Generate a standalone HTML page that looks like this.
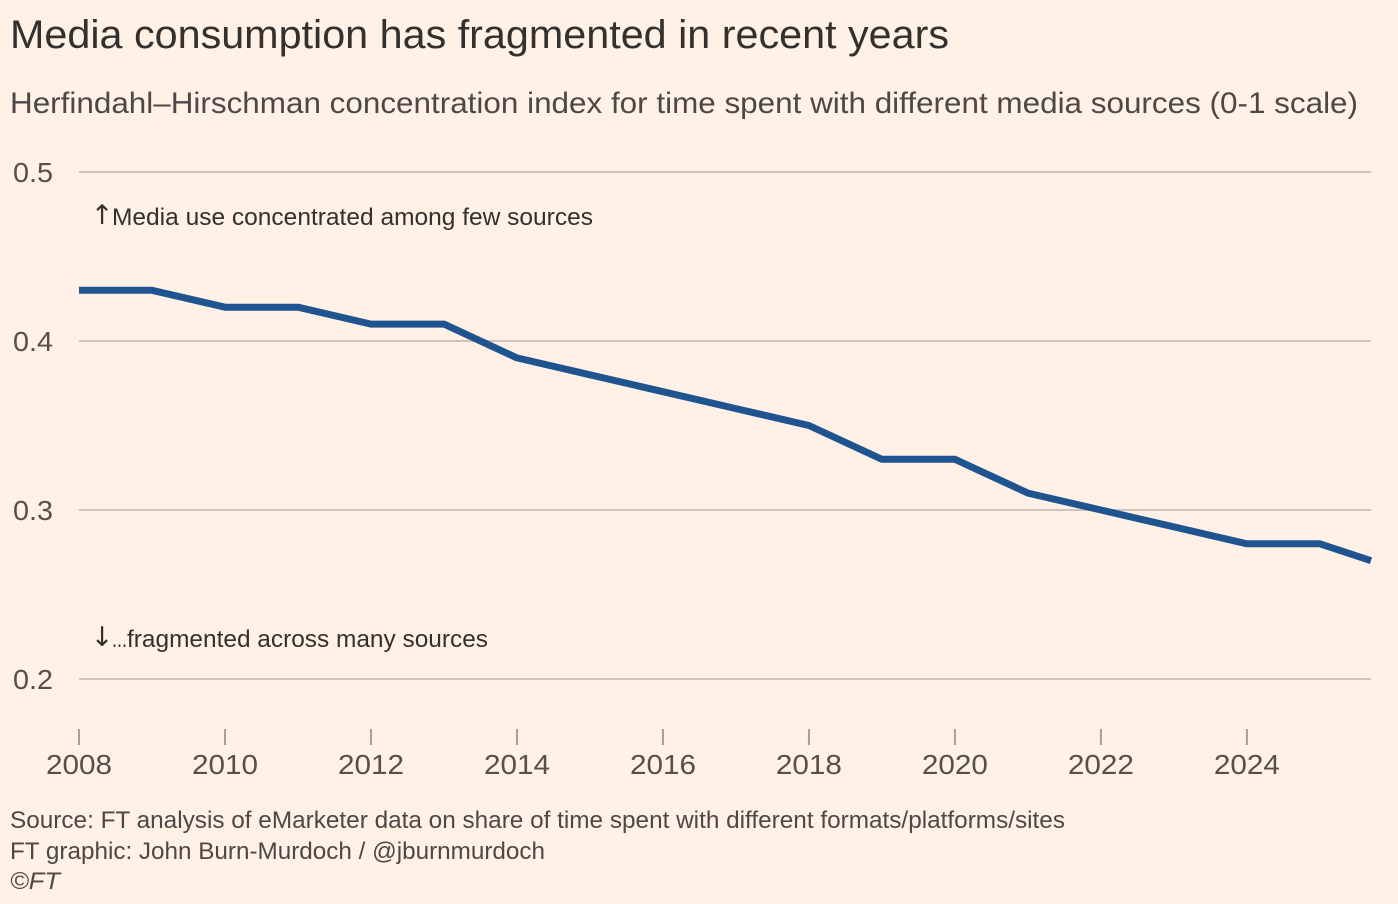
<!DOCTYPE html>
<html lang="en">
<head>
<meta charset="utf-8">
<title>Media consumption has fragmented in recent years</title>
<style>
  html, body { margin: 0; padding: 0; background: #fff1e5; }
  svg { display: block; font-family: "Liberation Sans", sans-serif; }
</style>
</head>
<body>
<svg id="chart" width="1398" height="904" viewBox="0 0 1398 904" xmlns="http://www.w3.org/2000/svg">
  <rect x="0" y="0" width="1398" height="904" fill="#fff1e5"/>
  <text x="10" y="48" font-size="40" fill="#33302e" textLength="939" lengthAdjust="spacingAndGlyphs">Media consumption has fragmented in recent years</text>
  <text x="10" y="113" font-size="30" fill="#4d4845" textLength="1348" lengthAdjust="spacingAndGlyphs">Herfindahl–Hirschman concentration index for time spent with different media sources (0-1 scale)</text>
  <g id="grid"></g>
  <g id="y-axis"></g>
  <g id="x-axis"></g>
  <g id="series"></g>
  <text x="102" y="224" font-size="27" fill="#33302e" text-anchor="middle" font-family="DejaVu Sans, sans-serif">↑</text>
  <text x="112" y="225" font-size="24" fill="#33302e" textLength="481" lengthAdjust="spacingAndGlyphs">Media use concentrated among few sources</text>
  <text x="102" y="646" font-size="27" fill="#33302e" text-anchor="middle" font-family="DejaVu Sans, sans-serif">↓</text>
  <text x="112" y="647" font-size="24" fill="#33302e" textLength="15" lengthAdjust="spacingAndGlyphs">...</text>
  <text x="127" y="647" font-size="24" fill="#33302e" textLength="361" lengthAdjust="spacingAndGlyphs">fragmented across many sources</text>
  <text x="10" y="828" font-size="24" fill="#4d4845" textLength="1055" lengthAdjust="spacingAndGlyphs">Source: FT analysis of eMarketer data on share of time spent with different formats/platforms/sites</text>
  <text x="10" y="859" font-size="24" fill="#4d4845" textLength="535" lengthAdjust="spacingAndGlyphs">FT graphic: John Burn-Murdoch / @jburnmurdoch</text>
  <text x="10" y="889" font-size="24" fill="#4d4845" font-style="italic" textLength="50" lengthAdjust="spacingAndGlyphs">©FT</text>
</svg>
<script>
const years = [2008, 2009, 2010, 2011, 2012, 2013, 2014, 2015, 2016, 2017, 2018, 2019, 2020, 2021, 2022, 2023, 2024, 2025, 2025.7];
const hhiValues = [0.43, 0.43, 0.42, 0.42, 0.41, 0.41, 0.39, 0.38, 0.37, 0.36, 0.35, 0.33, 0.33, 0.31, 0.30, 0.29, 0.28, 0.28, 0.27];
const yTicks = [0.5, 0.4, 0.3, 0.2];
const xTicks = [2008, 2010, 2012, 2014, 2016, 2018, 2020, 2022, 2024];

const NS = 'http://www.w3.org/2000/svg';
const plotLeft = 79, plotRight = 1371;
const xDomainMin = 2008, xDomainMax = 2025.7;
const yRefHigh = 0.5, yRefLow = 0.2, yRefHighPx = 172, yRefLowPx = 679;

function xScale(v) {
  return plotLeft + (v - xDomainMin) / (xDomainMax - xDomainMin) * (plotRight - plotLeft);
}
function yScale(v) {
  return yRefHighPx + (yRefHigh - v) / (yRefHigh - yRefLow) * (yRefLowPx - yRefHighPx);
}
function make(tag, attrs, text) {
  const el = document.createElementNS(NS, tag);
  for (const k in attrs) el.setAttribute(k, attrs[k]);
  if (text !== undefined) el.textContent = text;
  return el;
}

const gridLayer = document.getElementById('grid');
const yLayer = document.getElementById('y-axis');
const xLayer = document.getElementById('x-axis');
const seriesLayer = document.getElementById('series');

yTicks.forEach(function (t) {
  const py = yScale(t);
  const line = make('line', { x1: plotLeft, x2: plotRight, y1: py, y2: py, stroke: '#cfc4ba', 'stroke-width': 2 });
  
  
  gridLayer.appendChild(line);
  const label = make('text', { x: 13, y: py + 10, 'font-size': 28, fill: '#56504c', textLength: 40, lengthAdjust: 'spacingAndGlyphs' }, t.toFixed(1));
  
  
  yLayer.appendChild(label);
});

xTicks.forEach(function (t) {
  const px = xScale(t);
  const tick = make('line', { x1: px, x2: px, y1: 729, y2: 745, stroke: '#a89f98', 'stroke-width': 2 });
  
  
  xLayer.appendChild(tick);
  const label = make('text', { x: px - 33, y: 774, 'font-size': 28, fill: '#56504c', textLength: 66, lengthAdjust: 'spacingAndGlyphs' }, String(t));
  
  
  xLayer.appendChild(label);
});

const pathData = years.map(function (y, i) {
  return (i === 0 ? 'M' : 'L') + xScale(y).toFixed(2) + ' ' + yScale(hhiValues[i]).toFixed(2);
}).join(' ');
const seriesLine = make('path', { d: pathData, fill: 'none', stroke: '#1f5490', 'stroke-width': 7, 'stroke-linejoin': 'round', 'stroke-linecap': 'butt' });


seriesLayer.appendChild(seriesLine);
</script>
</body>
</html>
